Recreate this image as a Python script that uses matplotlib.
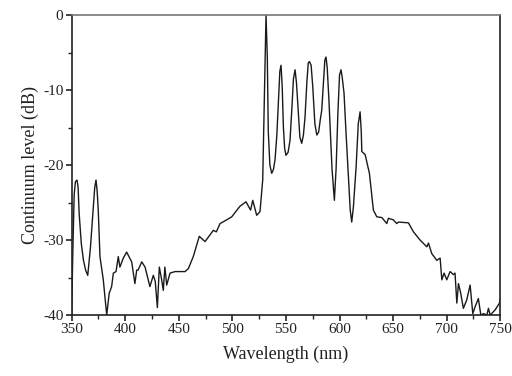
import matplotlib
matplotlib.use("Agg")
import matplotlib.pyplot as plt
from matplotlib.ticker import MultipleLocator

# Supercontinuum spectrum
wavelength = [
    350.0, 351.0, 352.3, 353.5, 355.0, 356.0, 357.0, 359.0, 361.0, 363.0,
    365.0, 367.5, 370.0, 371.5, 372.7, 373.8, 374.8, 376.4, 379.5, 382.7,
    385.0, 387.3, 388.9, 391.4, 393.5, 395.0, 398.2, 401.3, 406.0, 409.0,
    410.7, 412.0, 415.4, 418.5, 423.0, 426.2, 428.0, 430.0, 431.8, 434.0,
    435.5, 437.0, 438.7, 441.8, 446.5, 455.8, 458.9, 463.5, 469.1, 474.5,
    482.2, 485.0, 488.5, 494.7, 499.4, 507.0, 512.7, 515.0, 517.0, 519.0,
    522.7, 525.8, 528.3, 530.0, 531.4, 532.6, 533.5, 535.0, 536.7, 538.3,
    539.8, 541.5, 543.0, 544.3, 545.4, 546.5, 547.6, 548.8, 550.0, 552.0,
    553.8, 555.5, 557.0, 558.5, 559.8, 561.5, 563.0, 564.7, 566.3, 567.8,
    569.5, 570.8, 571.9, 573.5, 575.0, 577.0, 578.8, 580.5, 582.0, 583.4,
    585.0, 586.3, 587.4, 588.5, 590.0, 591.2, 593.0, 595.2, 596.8, 598.5,
    600.0, 601.4, 602.5, 604.2, 606.0, 608.3, 610.0, 611.4, 613.0, 615.5,
    617.5, 619.2, 620.3, 620.8, 623.9, 627.9, 631.6, 634.8, 639.5, 644.1,
    645.6, 650.2, 653.4, 654.9, 664.3, 669.0, 675.2, 681.5, 683.0, 686.1,
    690.8, 693.9, 695.5, 697.6, 700.1, 703.2, 706.3, 707.8, 709.5, 711.0,
    713.0, 715.6, 718.7, 721.9, 724.4, 726.5, 729.6, 731.9, 734.4, 737.5,
    739.0, 740.6, 745.3, 749.3, 750.0,
]
level_db = [
    -40.0, -32.0, -24.0, -22.2, -22.0, -23.0, -26.5, -30.5, -32.7, -34.0,
    -34.7, -31.0, -26.0, -23.0, -22.0, -23.5, -26.0, -32.2, -35.3, -40.0,
    -37.1, -36.2, -34.4, -34.2, -32.2, -33.6, -32.4, -31.6, -32.9, -35.8,
    -34.0, -34.0, -32.9, -33.6, -36.2, -34.7, -35.5, -39.0, -33.6, -35.3,
    -36.7, -33.6, -36.0, -34.4, -34.2, -34.2, -33.8, -32.2, -29.5, -30.2,
    -28.7, -28.9, -27.8, -27.3, -26.9, -25.5, -24.9, -25.5, -26.0, -24.7,
    -26.7, -26.2, -22.0, -10.0, 0.0, -5.6, -15.5, -20.0, -21.1, -20.6,
    -19.3, -16.0, -11.5, -7.5, -6.7, -9.5, -14.9, -17.8, -18.7, -18.3,
    -16.7, -12.5, -8.5, -7.3, -9.0, -13.0, -16.3, -17.1, -16.0, -13.6,
    -9.0, -6.4, -6.2, -6.7, -9.5, -14.5, -16.0, -15.6, -14.0, -12.7,
    -9.0, -6.0, -5.6, -7.0, -11.0, -14.9, -20.5, -24.7, -20.5, -13.0,
    -8.0, -7.3, -8.3, -10.4, -15.5, -21.6, -26.0, -27.6, -25.5, -20.2,
    -14.5, -12.9, -15.5, -18.2, -18.6, -21.1, -26.0, -26.9, -27.0, -27.8,
    -27.1, -27.3, -27.8, -27.6, -27.7, -28.9, -30.0, -30.9, -30.4, -31.8,
    -32.7, -32.4, -35.3, -34.4, -35.3, -34.2, -34.6, -34.4, -38.4, -35.8,
    -37.0, -39.1, -38.0, -36.0, -39.8, -38.9, -37.8, -40.0, -39.8, -40.0,
    -39.1, -40.0, -39.3, -38.4, -37.8,
]

x_ticks = [350, 400, 450, 500, 550, 600, 650, 700, 750]
y_ticks = [0, -10, -20, -30, -40]

plt.rcParams["font.family"] = "Liberation Serif"
plt.rcParams["axes.unicode_minus"] = False

fig = plt.figure(figsize=(5.12, 3.76), dpi=100)
ax = fig.add_axes([0.140, 0.162, 0.837, 0.798])

ax.plot(wavelength, level_db, color="#1a1a1a", lw=1.0)

ax.set_xlim(350, 750)
ax.set_ylim(-40, 0)
ax.set_xticks(x_ticks)
ax.set_yticks(y_ticks)
ax.xaxis.set_minor_locator(MultipleLocator(25))
ax.yaxis.set_minor_locator(MultipleLocator(5))
ax.tick_params(which="major", direction="out", length=4, width=1.2,
               labelsize=11, pad=2, colors="#222222")
ax.tick_params(which="minor", direction="out", length=3, width=1.0,
               colors="#222222")
for sp in ax.spines.values():
    sp.set_linewidth(1.2)
    sp.set_color("#222222")
ax.spines["top"].set_color("#777777")

ax.set_xlabel("Wavelength (nm)", fontsize=13, labelpad=7, color="#222222")
ax.set_ylabel("Continuum level (dB)", fontsize=13, labelpad=3, color="#222222")

fig.savefig("out.png", dpi=100)
